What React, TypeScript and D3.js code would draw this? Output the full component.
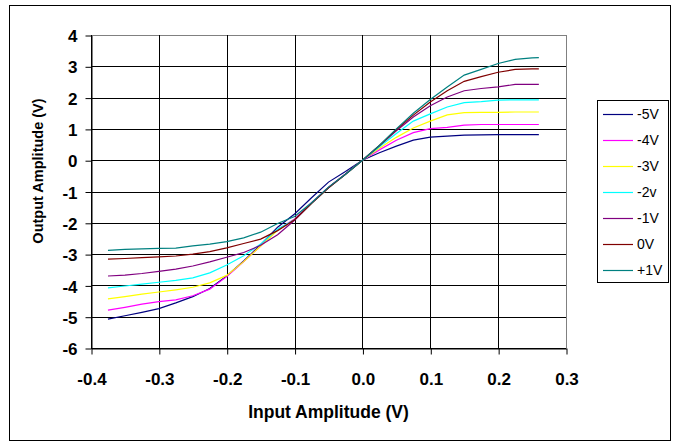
import React, { useEffect, useRef } from "react"
import * as d3 from "d3"

// input amplitude (V) sampled along the sweep
const inputAmplitude = [
  -0.375, -0.35, -0.325, -0.3, -0.275, -0.25, -0.225, -0.2, -0.175, -0.15, -0.125, -0.1, -0.075,
  -0.05, -0.025, 0, 0.025, 0.05, 0.075, 0.1, 0.125, 0.15, 0.175, 0.2, 0.225, 0.25, 0.26,
]

const seriesNames = ["-5V", "-4V", "-3V", "-2v", "-1V", "0V", "+1V"]
const seriesColors = ["#000080", "#FF00FF", "#FFFF00", "#00FFFF", "#800080", "#800000", "#008080"]

const outMinus5 = [
  -5.08, -4.97, -4.86, -4.74, -4.56, -4.36, -4.1, -3.7, -3.22, -2.7, -2.14, -1.72, -1.2, -0.7,
  -0.36, 0, 0.24, 0.45, 0.64, 0.74, 0.77, 0.8, 0.81, 0.82, 0.82, 0.82, 0.82,
]
const outMinus4 = [
  -4.79, -4.7, -4.6, -4.52, -4.46, -4.33, -4.12, -3.72, -3.24, -2.74, -2.22, -1.88, -1.36, -0.86,
  -0.44, 0, 0.33, 0.64, 0.88, 1.01, 1.05, 1.12, 1.14, 1.14, 1.14, 1.14, 1.14,
]
const outMinus3 = [
  -4.43, -4.36, -4.28, -4.21, -4.14, -4.06, -3.92, -3.68, -3.24, -2.74, -2.24, -1.9, -1.38, -0.88,
  -0.45, 0, 0.38, 0.73, 1.03, 1.25, 1.45, 1.52, 1.53, 1.53, 1.54, 1.54, 1.54,
]
const outMinus2 = [
  -4.08, -4.02, -3.96, -3.9, -3.84, -3.76, -3.6, -3.35, -3.05, -2.68, -2.2, -1.9, -1.38, -0.88,
  -0.45, 0, 0.43, 0.85, 1.25, 1.48, 1.7, 1.84, 1.87, 1.92, 1.93, 1.93, 1.93,
]
const outMinus1 = [
  -3.7, -3.67, -3.62, -3.55, -3.48, -3.38, -3.25, -3.1, -2.95, -2.72, -2.38, -1.92, -1.38, -0.88,
  -0.45, 0, 0.46, 0.94, 1.38, 1.74, 2.02, 2.22, 2.29, 2.34, 2.42, 2.42, 2.42,
]
const outZero = [
  -3.16, -3.14, -3.11, -3.09, -3.06, -3.0, -2.92, -2.8, -2.66, -2.52, -2.25, -1.9, -1.38, -0.88,
  -0.45, 0, 0.47, 0.98, 1.44, 1.86, 2.22, 2.52, 2.67, 2.81, 2.9, 2.92, 2.92,
]
const outPlus1 = [
  -2.88, -2.85, -2.83, -2.82, -2.81, -2.74, -2.68, -2.6, -2.48, -2.3, -2.02, -1.8, -1.36, -0.86,
  -0.45, 0, 0.47, 1.0, 1.5, 1.94, 2.34, 2.72, 2.9, 3.09, 3.22, 3.27, 3.28,
]

const seriesValues = [outMinus5, outMinus4, outMinus3, outMinus2, outMinus1, outZero, outPlus1]

const xTicks = [-0.4, -0.3, -0.2, -0.1, 0, 0.1, 0.2, 0.3]
const yTicks = [-6, -5, -4, -3, -2, -1, 0, 1, 2, 3, 4]

const width = 677
const height = 444
const plot = { left: 91, right: 566, top: 35, bottom: 348 }

const App = () => {
  const ref = useRef<SVGSVGElement>(null)

  useEffect(() => {
    const svg = d3.select(ref.current)
    svg.selectAll("*").remove()

    const x = d3.scaleLinear().domain([-0.4, 0.3]).range([plot.left, plot.right])
    const y = d3.scaleLinear().domain([-6, 4]).range([plot.bottom, plot.top])

    // outer chart frame
    svg
      .append("rect")
      .attr("x", 9.5)
      .attr("y", 5.5)
      .attr("width", 661)
      .attr("height", 435)
      .attr("fill", "white")
      .attr("stroke", "#000")
      .attr("stroke-width", 1)

    // gridlines
    svg
      .append("g")
      .selectAll("line")
      .data(yTicks)
      .enter()
      .append("line")
      .attr("x1", plot.left)
      .attr("x2", plot.right)
      .attr("y1", (d) => Math.round(y(d)) + 0.5)
      .attr("y2", (d) => Math.round(y(d)) + 0.5)
      .attr("stroke", (d) => (d === 4 ? "#808080" : "#000"))
      .attr("stroke-width", 1)

    svg
      .append("g")
      .selectAll("line")
      .data(xTicks)
      .enter()
      .append("line")
      .attr("x1", (d) => Math.round(x(d)) + 0.5)
      .attr("x2", (d) => Math.round(x(d)) + 0.5)
      .attr("y1", plot.top)
      .attr("y2", plot.bottom)
      .attr("stroke", (d) => (d === 0.3 ? "#808080" : "#000"))
      .attr("stroke-width", 1)

    // axes
    const yAxis = svg
      .append("g")
      .attr("transform", "translate(" + (plot.left + 0.5) + ",0.5)")
      .call(
        d3
          .axisLeft(y)
          .tickValues(yTicks)
          .tickSize(6)
          .tickPadding(8)
          .tickSizeOuter(0)
          .tickFormat((d) => String(d))
      )
    yAxis.select(".domain").attr("stroke", "#000")
    yAxis.selectAll(".tick line").attr("stroke", "#000")
    yAxis
      .selectAll(".tick text")
      .attr("fill", "#000")
      .attr("dy", "0.36em")
      .style("font-family", "'Liberation Sans', Arial, sans-serif")
      .style("font-size", "17px")
      .style("font-weight", "bold")

    const xAxis = svg
      .append("g")
      .attr("transform", "translate(0.5," + (plot.bottom + 0.5) + ")")
      .call(
        d3
          .axisBottom(x)
          .tickValues(xTicks)
          .tickSize(6)
          .tickPadding(18)
          .tickSizeOuter(0)
          .tickFormat((d) => (+d).toFixed(1))
      )
    xAxis.select(".domain").attr("stroke", "#000")
    xAxis.selectAll(".tick line").attr("stroke", "#000")
    xAxis
      .selectAll(".tick text")
      .attr("fill", "#000")
      .style("font-family", "'Liberation Sans', Arial, sans-serif")
      .style("font-size", "17px")
      .style("font-weight", "bold")

    // series
    const line = d3
      .line<number>()
      .x((d, i) => x(inputAmplitude[i]))
      .y((d) => y(d))

    svg
      .append("g")
      .selectAll("path")
      .data(seriesValues)
      .enter()
      .append("path")
      .attr("d", (d) => line(d))
      .attr("fill", "none")
      .attr("stroke", (d, i) => seriesColors[i])
      .attr("stroke-width", 1.2)

    // axis titles
    svg
      .append("text")
      .attr("x", (plot.left + plot.right) / 2)
      .attr("y", 418)
      .attr("text-anchor", "middle")
      .style("font-family", "'Liberation Sans', Arial, sans-serif")
      .style("font-size", "17.5px")
      .style("font-weight", "bold")
      .text("Input Amplitude (V)")

    svg
      .append("text")
      .attr("transform", "translate(43,171) rotate(-90)")
      .attr("text-anchor", "middle")
      .style("font-family", "'Liberation Sans', Arial, sans-serif")
      .style("font-size", "14.5px")
      .style("font-weight", "bold")
      .text("Output Amplitude (V)")

    // legend
    const legend = svg.append("g")
    legend
      .append("rect")
      .attr("x", 597.5)
      .attr("y", 100.5)
      .attr("width", 71)
      .attr("height", 182)
      .attr("fill", "white")
      .attr("stroke", "#000")

    const items = legend
      .selectAll("g.item")
      .data(seriesNames)
      .enter()
      .append("g")
      .attr("class", "item")
      .attr("transform", (d, i) => "translate(0," + (114 + i * 26) + ")")

    items
      .append("line")
      .attr("x1", 603)
      .attr("x2", 633)
      .attr("y1", 0.5)
      .attr("y2", 0.5)
      .attr("stroke", (d, i) => seriesColors[i])
      .attr("stroke-width", 1.2)

    items
      .append("text")
      .attr("x", 637)
      .attr("y", 0)
      .attr("dy", "0.36em")
      .style("font-family", "'Liberation Sans', Arial, sans-serif")
      .style("font-size", "14px")
      .text((d) => d)
  }, [])

  return (
    <div style={{ position: "absolute", left: 0, top: 0 }}>
      <svg ref={ref} width={width} height={height} style={{ display: "block" }}></svg>
    </div>
  )
}

export default App
